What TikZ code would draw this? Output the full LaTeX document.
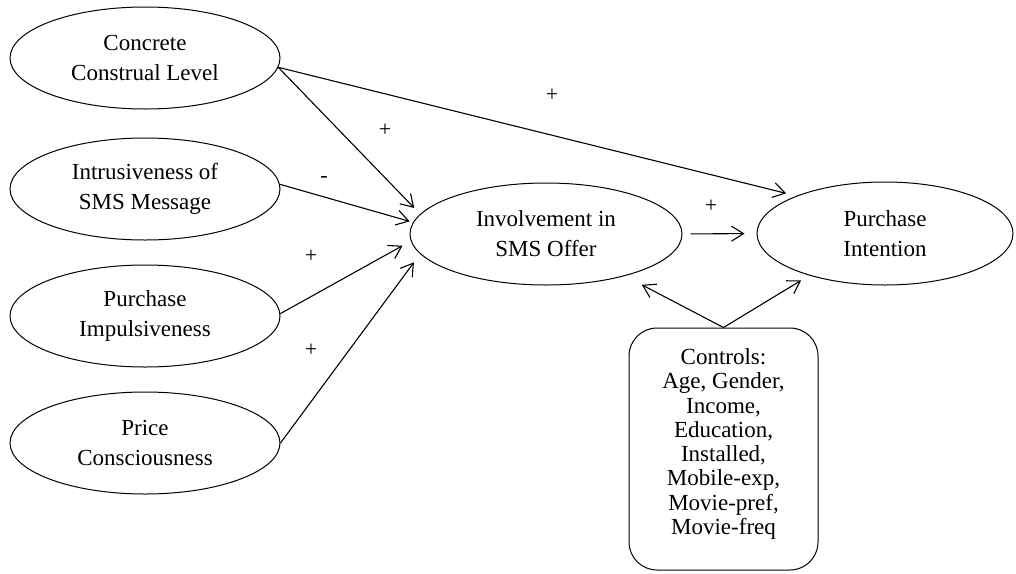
\documentclass[tikz,border=0pt]{standalone}
\usepackage{fontspec}
\setmainfont{Liberation Serif}
\usetikzlibrary{shapes.geometric,arrows.meta}
\begin{document}
\begin{tikzpicture}[x=1pt,y=-1pt,
  construct/.style={draw, ellipse, line width=1pt, inner sep=0pt,
    minimum width=270pt, minimum height=102pt, align=center,
    font=\fontsize{23}{30}\selectfont},
  ctrlbox/.style={draw, rectangle, rounded corners=28pt, line width=1pt,
    minimum width=189pt, minimum height=242pt, align=center, inner sep=0pt,
    font=\fontsize{23}{24.3}\selectfont},
  sign/.style={inner sep=0pt, font=\fontsize{22}{24}\selectfont},
  path/.style={draw, line width=1.1pt,
    -{Straight Barb[length=12pt,width=15pt,line width=1.1pt]}}]
\useasboundingbox (0,0) rectangle (1016,573);

\node[construct] (ccl) at (145,58) {Concrete\\Construal Level};
\node[construct] (ism) at (145,189) {Intrusiveness of\\SMS Message};
\node[construct] (pim) at (145,316) {Purchase\\Impulsiveness};
\node[construct] (prc) at (145,443) {Price\\Consciousness};
\node[construct, minimum width=272pt] (inv) at (546,234) {Involvement in\\SMS Offer};
\node[construct, minimum width=256pt, minimum height=103pt] (pin) at (885,233.5) {Purchase\\Intention};
\node[ctrlbox] (ctl) at (723.5,449) {Controls:\\Age, Gender,\\Income,\\Education,\\Installed,\\Mobile-exp,\\Movie-pref,\\Movie-freq\rule[-15pt]{0pt}{15pt}};

\draw[path, shorten >=8.5pt] (ccl.-4) -- (inv.171);
\draw[path, shorten >=10.5pt] (ccl.-4) -- (pin.157.3);
\draw[path, shorten >=3.6pt] (ism.2.5) -- (inv.175);
\draw[path, shorten >=9.5pt] (pim.1.7) -- (inv.183.2);
\draw[path, shorten >=10.4pt] (prc.0) -- (inv.189.7);
\draw[path, shorten <=8pt, shorten >=12pt] (inv.east) -- (pin.west);
\draw[path, shorten >=19pt] (ctl.north) -- (inv.-28.5);
\draw[path, shorten >=9.5pt] (ctl.north) -- (pin.209.3);

\node[sign] (s1) at (552,95) {+};
\node[sign] (s2) at (385,130) {+};
\node[sign] (s3) at (324,179) {-};
\node[sign] (s4) at (311,256) {+};
\node[sign] (s5) at (311,350) {+};
\node[sign] (s6) at (711,206) {+};
\end{tikzpicture}
\end{document}
